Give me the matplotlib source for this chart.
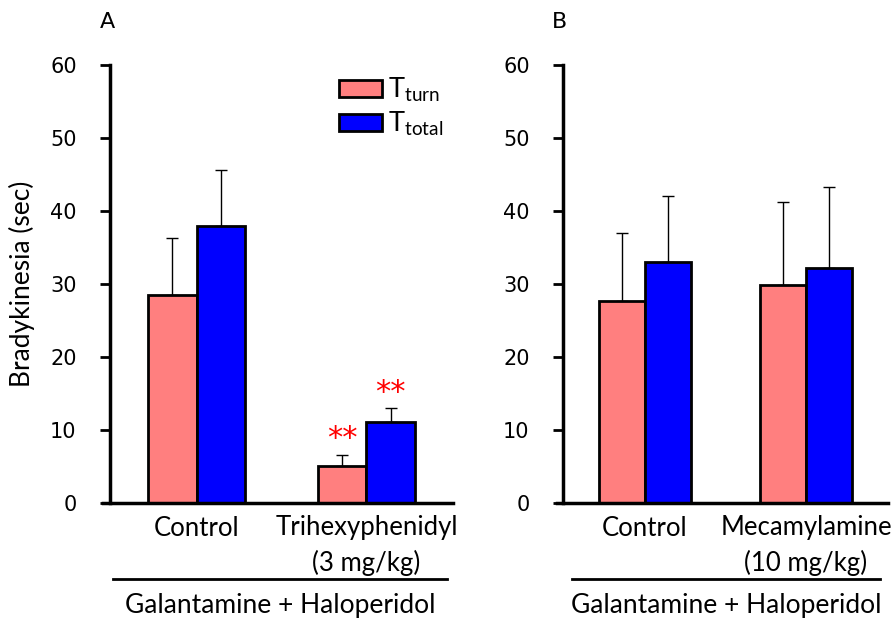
import numpy as np
import matplotlib
matplotlib.use('Agg')
import matplotlib.pyplot as plt
from matplotlib.lines import Line2D

plt.rcParams['mathtext.default'] = 'regular'

# Data
series_names = [r'T$_{turn}$', r'T$_{total}$']
series_colors = ['#FF7F7F', '#0000FF']

groups_a = ['Control', 'Trihexyphenidyl\n(3 mg/kg)']
turn_a = [28.5, 5.1]
turn_a_err = [7.8, 1.5]
total_a = [37.9, 11.1]
total_a_err = [7.7, 1.9]
stars_a = ['', '**']

groups_b = ['Control', 'Mecamylamine\n(10 mg/kg)']
turn_b = [27.7, 29.9]
turn_b_err = [9.3, 11.3]
total_b = [33.0, 32.2]
total_b_err = [9.0, 11.1]

treatment = 'Galantamine + Haloperidol'
ylabel = 'Bradykinesia (sec)'
yticks = [0, 10, 20, 30, 40, 50, 60]

W, H = 893, 620
bar_w = 0.285
label_font = 'Lato'
num_font = 'DejaVu Sans'
label_size = 18.5

fig = plt.figure(figsize=(W / 100, H / 100), dpi=100)


def px_axes(left, right, bottom, top):
    return fig.add_axes([left / W, 1 - bottom / H, (right - left) / W, (bottom - top) / H])


def draw_panel(ax, groups, turn, turn_err, total, total_err, stars=None):
    x = np.arange(len(groups))
    for vals, errs, off, col in [(turn, turn_err, -bar_w / 2, series_colors[0]),
                                 (total, total_err, bar_w / 2, series_colors[1])]:
        ax.bar(x + off, vals, bar_w, color=col, edgecolor='black', linewidth=2, zorder=2)
        ax.errorbar(x + off, vals, yerr=[np.zeros(len(vals)), errs], fmt='none',
                    ecolor='black', elinewidth=1, capsize=4, capthick=1, zorder=1)
        if stars is not None:
            for xi, v, e, s in zip(x + off, vals, errs, stars):
                if s:
                    ax.text(xi, v + e + 0.2, s, color='red', ha='center', va='bottom',
                            fontsize=22, family=num_font)
    ax.set_xlim(-0.51, 1.51)
    ax.set_ylim(0, 60)
    ax.set_yticks(yticks)
    ax.set_yticklabels([str(t) for t in yticks], family=num_font, fontsize=15)
    ax.set_xticks(x)
    ax.set_xticklabels(groups, family=label_font, fontsize=label_size, linespacing=1.45, va='top')
    ax.tick_params(axis='x', length=0, pad=9)
    ax.tick_params(axis='y', length=7, width=2, direction='out', pad=17)
    for sp in ['top', 'right']:
        ax.spines[sp].set_visible(False)
    for sp in ['left', 'bottom']:
        ax.spines[sp].set_linewidth(2.5)
    ax.spines['bottom'].set_bounds(-0.55, 1.51)


ax_a = px_axes(110, 453, 503, 65)
draw_panel(ax_a, groups_a, turn_a, turn_a_err, total_a, total_a_err, stars_a)
ax_a.set_ylabel(ylabel, family=label_font, fontsize=19, labelpad=11)

ax_b = px_axes(563, 888, 503, 65)
draw_panel(ax_b, groups_b, turn_b, turn_b_err, total_b, total_b_err)

handles = [plt.Rectangle((0, 0), 1, 1, facecolor=c, edgecolor='black', linewidth=2)
           for c in series_colors]
ax_a.legend(handles, series_names, loc='upper left', bbox_to_anchor=(339 / W, 1 - 76 / H),
            bbox_transform=fig.transFigure, frameon=False, prop={'family': label_font, 'size': 19.5},
            handlelength=1.6, handleheight=0.63, handletextpad=0.2, labelspacing=0.22,
            borderpad=0, borderaxespad=0)

# panel letters
fig.text(107 / W, 1 - 22 / H, 'A', family=num_font, fontsize=16, ha='center', va='center')
fig.text(560 / W, 1 - 22 / H, 'B', family=num_font, fontsize=16, ha='center', va='center')

# treatment bars underneath
for x0, x1 in [(113, 447), (572, 880)]:
    fig.add_artist(Line2D([x0 / W, x1 / W], [1 - 579 / H, 1 - 579 / H], color='black', linewidth=2))
    fig.text((x0 + x1) / 2 / W, 1 - 605 / H, treatment, family=label_font, fontsize=19,
             ha='center', va='center')

fig.savefig('out.png', dpi=100)
